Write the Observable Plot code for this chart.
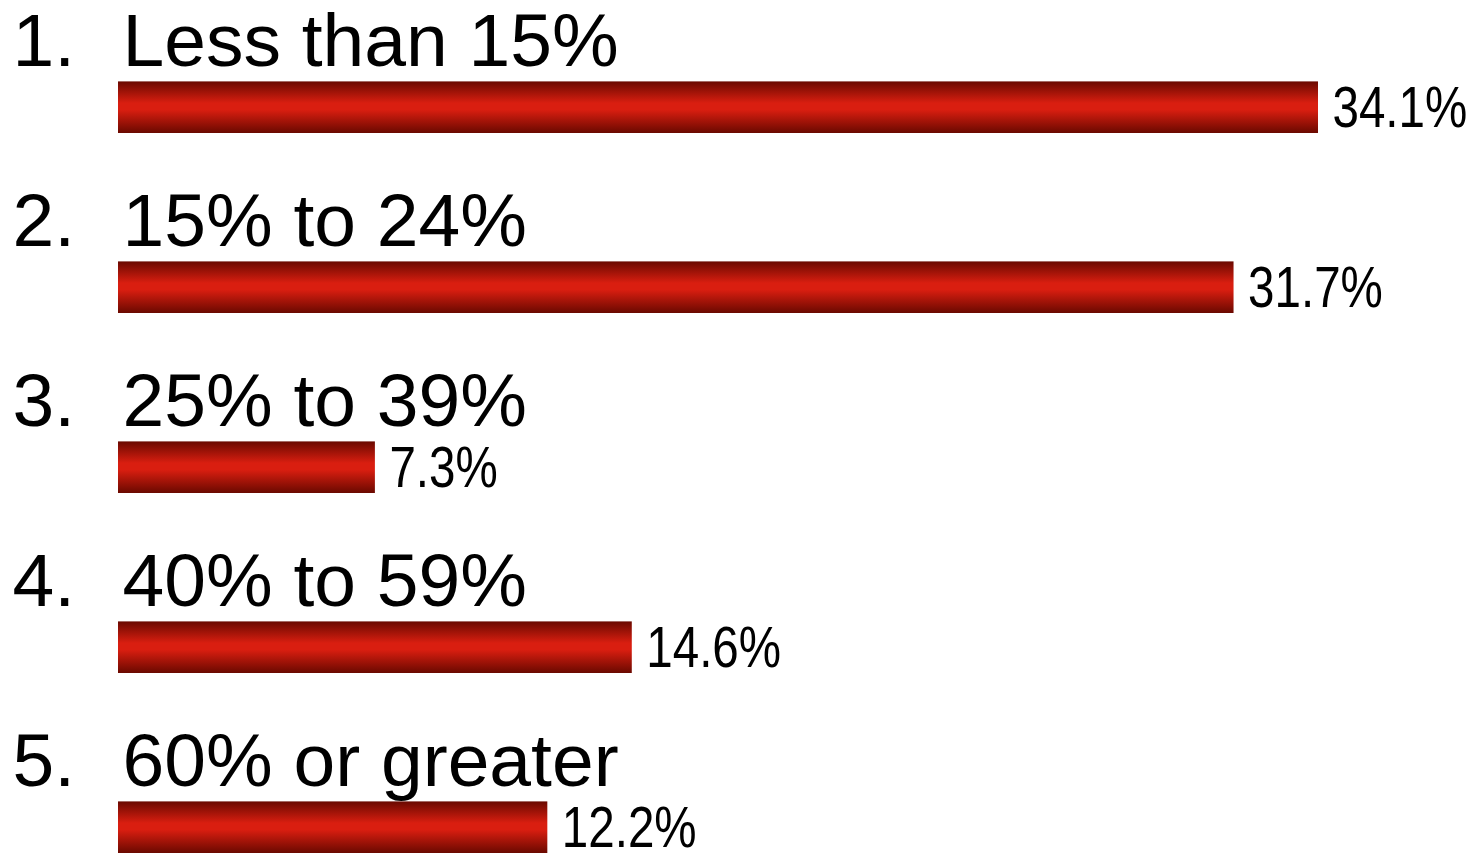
<!DOCTYPE html>
<html>
<head>
<meta charset="utf-8">
<script src="https://cdn.jsdelivr.net/npm/d3@7"></script>
<script src="https://cdn.jsdelivr.net/npm/@observablehq/plot@0.6"></script>
<style>
  html, body { margin: 0; padding: 0; background: #fff; }
  #chart { width: 1476px; height: 855px; overflow: hidden; }
</style>
</head>
<body>
<div id="chart"></div>
<script>
const ranks = ["1.", "2.", "3.", "4.", "5."];
const categories = ["Less than 15%", "15% to 24%", "25% to 39%", "40% to 59%", "60% or greater"];
const values = [34.1, 31.7, 7.3, 14.6, 12.2];
const valueLabels = ["34.1%", "31.7%", "7.3%", "14.6%", "12.2%"];

const data = categories.map((c, i) => ({rank: ranks[i], category: c, value: values[i], label: valueLabels[i]}));

const chart = Plot.plot({
  width: 1476,
  height: 855,
  marginLeft: 118,
  marginRight: 0,
  marginTop: 0,
  marginBottom: 0,
  style: {background: "transparent", overflow: "visible"},
  x: {domain: [0, 38.59], axis: null},
  y: {type: "band", domain: categories, range: [-49.75, 855], padding: 0, axis: null},
  marks: [
    Plot.barX(data, {
      x: "value", y: "category",
      fill: "url(#barGrad)",
      insetTop: 128.4
    }),
    Plot.text(data, {
      x: 0, y: "category", text: "rank",
      textAnchor: "start", lineAnchor: "bottom",
      dx: -106, dy: 22.4,
      fontSize: 75, fontFamily: "Liberation Sans, Arial, sans-serif", fill: "#000"
    }),
    Plot.text(data, {
      x: 0, y: "category", text: "category",
      textAnchor: "start", lineAnchor: "bottom",
      dx: 4, dy: 22.4,
      fontSize: 75, fontFamily: "Liberation Sans, Arial, sans-serif", fill: "#000"
    }),
    Plot.text(data, {
      x: "value", y: "category", text: "label",
      textAnchor: "start", lineAnchor: "bottom",
      dx: 14, dy: 83,
      fontSize: 58, fontFamily: "Liberation Sans, Arial, sans-serif", fill: "#000"
    })
  ]
});

d3.select(chart).insert("defs", ":first-child").html(`
  <linearGradient id="barGrad" x1="0" y1="0" x2="0" y2="1">
    <stop offset="0" stop-color="#6a0900"/>
    <stop offset="0.42" stop-color="#d91e10"/>
    <stop offset="0.55" stop-color="#d91e10"/>
    <stop offset="1" stop-color="#6a0900"/>
  </linearGradient>`);

// condense the value labels horizontally (narrow face as in the reference)
const textGroups = chart.querySelectorAll('g[aria-label="text"]');
const valueGroup = textGroups[textGroups.length - 1];
valueGroup.querySelectorAll("text").forEach(t => {
  const tr = t.getAttribute("transform");
  if (tr) {
    t.setAttribute("transform", tr + " scale(0.82,1)");
  } else {
    const x = +t.getAttribute("x") || 0, y = +t.getAttribute("y") || 0;
    t.removeAttribute("x"); t.removeAttribute("y");
    t.setAttribute("transform", `translate(${x},${y}) scale(0.82,1)`);
  }
});

document.getElementById("chart").appendChild(chart);
</script>
</body>
</html>
